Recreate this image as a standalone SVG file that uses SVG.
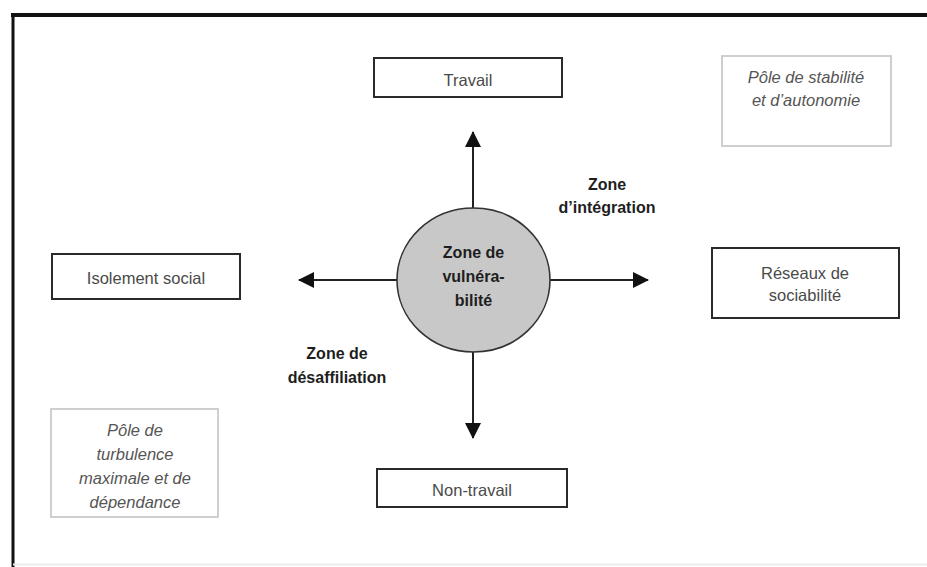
<svg xmlns="http://www.w3.org/2000/svg" width="927" height="567" viewBox="0 0 927 567">
<style>
.box{fill:#fff;stroke:#2a2a2a;stroke-width:2}
.pole{fill:#fff;stroke:#c4c4c4;stroke-width:1.6}
.t{font-family:"Liberation Sans",Arial,sans-serif;font-size:16.5px;fill:#4a4a4a;text-anchor:middle}
.i{font-family:"Liberation Sans",Arial,sans-serif;font-size:16.5px;font-style:italic;fill:#555;text-anchor:middle}
.b{font-family:"Liberation Sans",Arial,sans-serif;font-size:16px;font-weight:bold;fill:#1e1e1e;text-anchor:middle}
.c{stroke:#222;stroke-width:2;fill:none;marker-end:url(#ah)}
</style>
<defs>
<marker id="ah" markerWidth="16" markerHeight="16" viewBox="0 0 16 16" refX="15" refY="8" orient="auto" markerUnits="userSpaceOnUse">
<path d="M0,0 L16,8 L0,16 Z" fill="#111"/>
</marker>
</defs>
<rect x="0" y="0" width="927" height="567" fill="#fff"/>
<g id="frame">
<path d="M11,15 H927" stroke="#111" stroke-width="4" fill="none"/>
<path d="M13,13 V567" stroke="#111" stroke-width="3" fill="none"/>
<path d="M13,564.5 H927" stroke="#ececec" stroke-width="2" fill="none"/>
</g>
<g id="connectors">
<path class="c" d="M473,208 V132"/>
<path class="c" d="M473,352 V438"/>
<path class="c" d="M397,280 H299"/>
<path class="c" d="M550,280 H648"/>
</g>
<g id="center">
<ellipse cx="473.5" cy="280" rx="76.5" ry="72" fill="#c8c8c8" stroke="#333" stroke-width="1.6"/>
<text class="b" x="473.5" y="258">Zone de</text>
<text class="b" x="473.5" y="282">vulnéra-</text>
<text class="b" x="473.5" y="306">bilité</text>
</g>
<g id="travail">
<rect class="box" x="374" y="58" width="188" height="39"/>
<text class="t" x="468" y="86">Travail</text>
</g>
<g id="non-travail">
<rect class="box" x="377" y="469" width="190" height="38"/>
<text class="t" x="472" y="496">Non-travail</text>
</g>
<g id="isolement">
<rect class="box" x="52" y="254" width="188" height="45"/>
<text class="t" x="146" y="284">Isolement social</text>
</g>
<g id="reseaux">
<rect class="box" x="712" y="248" width="187" height="70"/>
<text class="t" x="805" y="279">Réseaux de</text>
<text class="t" x="805" y="301">sociabilité</text>
</g>
<g id="pole-stabilite">
<rect class="pole" x="722" y="56" width="169" height="90"/>
<text class="i" x="806" y="83">Pôle de stabilité</text>
<text class="i" x="806" y="106">et d’autonomie</text>
</g>
<g id="pole-turbulence">
<rect class="pole" x="51" y="409" width="167" height="108"/>
<text class="i" x="135" y="436">Pôle de</text>
<text class="i" x="135" y="460">turbulence</text>
<text class="i" x="135" y="484">maximale et de</text>
<text class="i" x="135" y="508">dépendance</text>
</g>
<g id="zone-integration">
<text class="b" x="607" y="190">Zone</text>
<text class="b" x="607" y="213">d’intégration</text>
</g>
<g id="zone-desaffiliation">
<text class="b" x="337" y="359">Zone de</text>
<text class="b" x="337" y="383">désaffiliation</text>
</g>
</svg>
